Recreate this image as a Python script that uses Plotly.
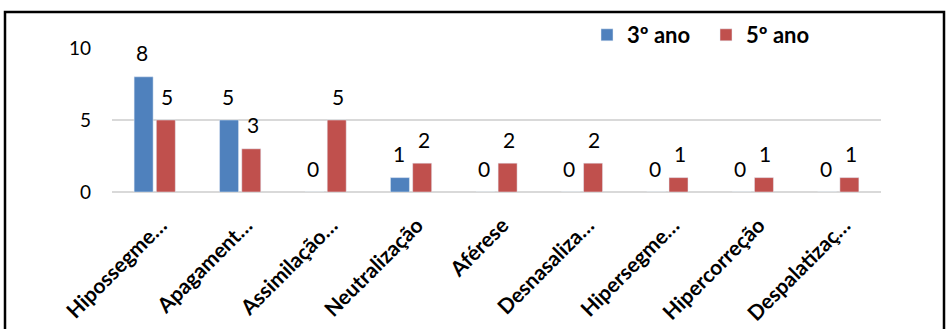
import plotly.graph_objects as go

categorias = ["Hipossegme…", "Apagament…", "Assimilação…", "Neutralização", "Aférese",
              "Desnasaliza…", "Hipersegme…", "Hipercorreção", "Despalatizaç…"]
ano3 = [8, 5, 0, 1, 0, 0, 0, 0, 0]
ano5 = [5, 3, 5, 2, 2, 2, 1, 1, 1]
y_ticks = [0, 5, 10]

W, H = 948, 329
L, R, T, B = 112, 67, 48, 137
pw, ph = W - L - R, H - T - B

def px_x(px):
    return (px - L) / pw

def px_y(py):
    return (H - B - py) / ph

BLUE, RED = "#4F81BD", "#C0504D"

fig = go.Figure()
fig.add_bar(name="3º ano", x=categorias, y=ano3, marker_color=BLUE)
fig.add_bar(name="5º ano", x=categorias, y=ano5, marker_color=RED)

# value labels floating above each bar
for serie, dx in ((ano3, -12.5), (ano5, 12.5)):
    for cat, v in zip(categorias, serie):
        fig.add_annotation(x=cat, y=v, text=str(v), showarrow=False,
                           xshift=dx, yshift=24, yanchor="middle", xanchor="center",
                           font=dict(family="Lato", size=21, color="#000000"))

# outer frame around the whole chart
fig.add_shape(type="rect", xref="paper", yref="paper",
              x0=px_x(5), x1=px_x(944), y0=px_y(345), y1=px_y(12),
              line=dict(color="#000000", width=2.5), fillcolor="rgba(0,0,0,0)")

fig.update_layout(
    width=W, height=H,
    margin=dict(l=L, r=R, t=T, b=B, autoexpand=False),
    paper_bgcolor="white", plot_bgcolor="white",
    barmode="group", bargap=0.48, bargroupgap=0.145,
    font=dict(family="Lato", color="#000000"),
    showlegend=True,
    legend=dict(orientation="h", x=px_x(587), y=px_y(14), xanchor="left", yanchor="top",
                font=dict(family="Lato", size=22, color="#000000", weight="bold"),
                entrywidth=74, traceorder="normal", bgcolor="rgba(0,0,0,0)"),
    xaxis=dict(tickangle=-45, showline=False, ticks="", ticklabelstandoff=16,
               ticklabelshift=6,
               tickfont=dict(family="Lato", size=21, color="#000000", weight="bold")),
    yaxis=dict(range=[0, 10], tickvals=y_ticks, showgrid=True, gridcolor="#D9D9D9",
               gridwidth=1.5, zeroline=True, zerolinecolor="#D9D9D9", zerolinewidth=1.5,
               showline=False, ticks="", ticklabelstandoff=20,
               tickfont=dict(family="Lato", size=19, color="#000000")),
)

fig.write_html("out.html")
